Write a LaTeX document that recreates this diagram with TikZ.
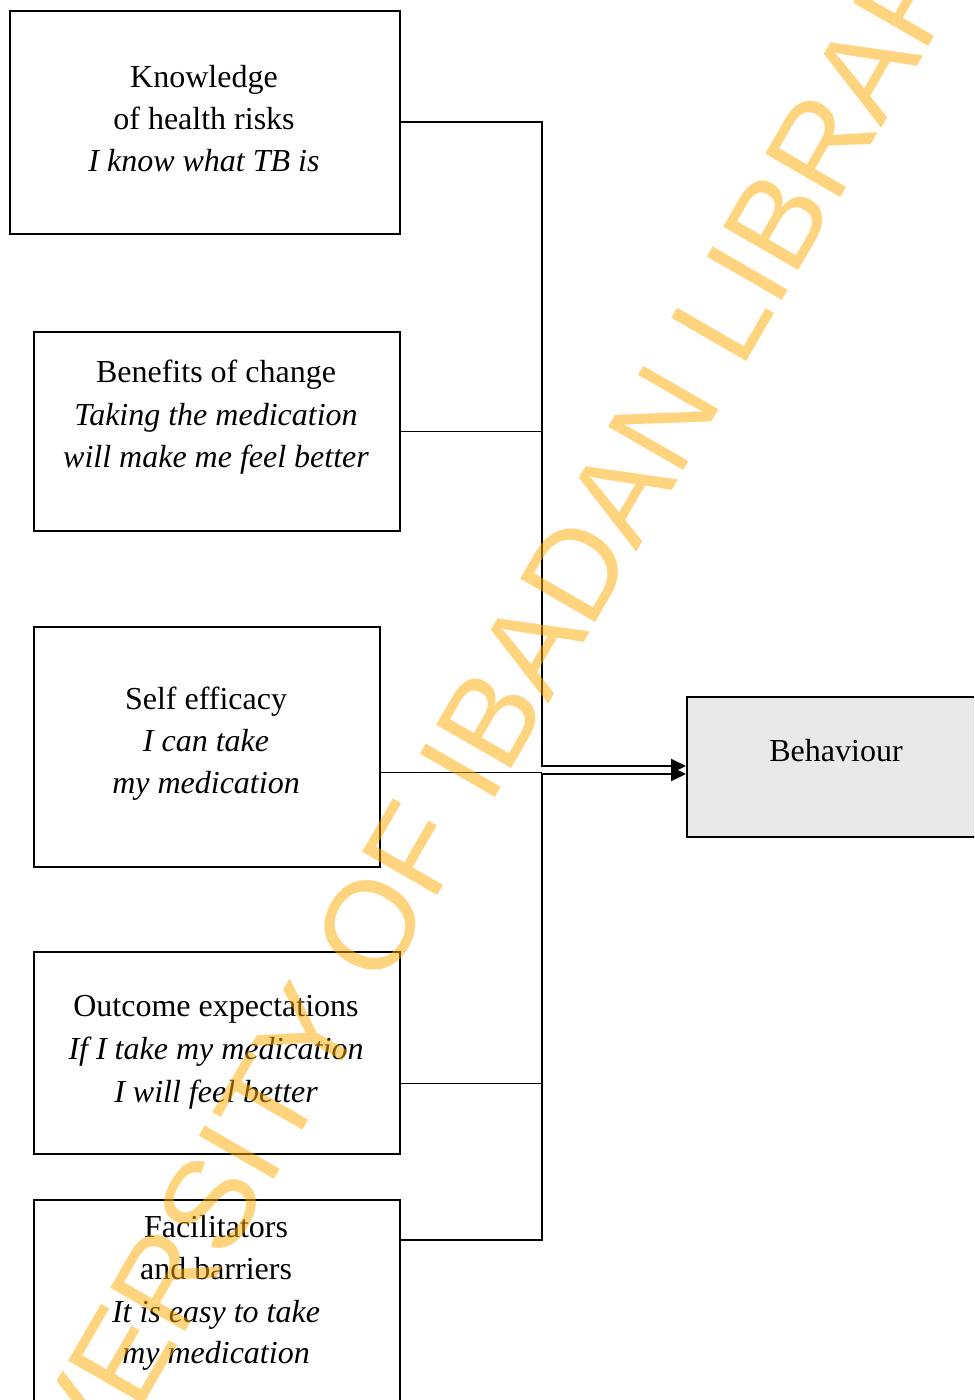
\documentclass[tikz,border=0pt]{standalone}
\usepackage{fontspec}
\setmainfont{Liberation Serif}
\newfontfamily\wmfont{Liberation Sans}
\usetikzlibrary{arrows.meta}
\definecolor{wmorange}{RGB}{255,170,0}
\definecolor{behgray}{RGB}{233,233,233}
\begin{document}
\begin{tikzpicture}[x=0.5pt,y=-0.5pt,
  box/.style={draw, line width=0.8pt, inner sep=0, anchor=north west},
  lab/.style={anchor=base, inner sep=0, font=\fontsize{16}{19}\selectfont},
  ilab/.style={anchor=base, inner sep=0, font=\fontsize{16}{19}\selectfont\itshape},
  thickline/.style={line width=1pt},
  thinline/.style={line width=0.5pt},
  arr/.style={thickline, -{Triangle[length=7.5pt,width=7pt]}}]
\path[use as bounding box] (0,0) rectangle (974,1400);
\clip (0,0) rectangle (974,1400);

% boxes
\node[box, minimum width=195pt, minimum height=111.5pt] (k) at (9,10) {};
\node[box, minimum width=183pt, minimum height=99.5pt] (b) at (33,331) {};
\node[box, minimum width=173pt, minimum height=120pt] (s) at (33,626) {};
\node[box, minimum width=183pt, minimum height=101pt] (o) at (33,951) {};
\node[box, minimum width=183pt, minimum height=130pt] (f) at (33,1199) {};
\node[box, fill=behgray, minimum width=160pt, minimum height=70pt] (beh) at (686,696) {};

% texts
\node[lab]  (k1) at (204,88)  {Knowledge};
\node[lab]  (k2) at (204,130) {of health risks};
\node[ilab] (k3) at (204,172) {I know what TB is};

\node[lab]  (b1) at (216,383) {Benefits of change};
\node[ilab] (b2) at (216,426) {Taking the medication};
\node[ilab] (b3) at (216,468) {will make me feel better};

\node[lab]  (s1) at (206,709) {Self efficacy};
\node[ilab] (s2) at (206,751) {I can take};
\node[ilab] (s3) at (206,793) {my medication};

\node[lab]  (o1) at (216,1016) {Outcome expectations};
\node[ilab] (o2) at (216,1059) {If I take my medication};
\node[ilab] (o3) at (216,1102) {I will feel better};

\node[lab]  (f1) at (216,1237) {Facilitators};
\node[lab]  (f2) at (216,1279) {and barriers};
\node[ilab] (f3) at (216,1322) {It is easy to take};
\node[ilab] (f4) at (216,1363) {my medication};

\node[lab] (beht) at (836,761) {Behaviour};

% connectors
\coordinate (j1) at (542,766);
\coordinate (j2) at (542,774);
\coordinate (fo) at (399,1240);
\coordinate (so) at (379,772);
\coordinate (oo) at (399,1083);

\draw[thinline] (b.east) -- (b.east -| j1);
\draw[thinline] (so) -- (so -| j1);
\draw[thinline] (oo) -- (oo -| j1);
\draw[arr] (k.east) -| (j1) -- (j1 -| beh.west);
\draw[arr] (fo) -| (j2) -- (j2 -| beh.west);

% watermark
\node[rotate=60, anchor=base, text=wmorange, opacity=0.5, inner sep=0,
      font=\wmfont\fontsize{63}{63}\selectfont] (wm) at (499,790) {UNIVERSITY OF IBADAN LIBRARY};
\end{tikzpicture}
\end{document}
